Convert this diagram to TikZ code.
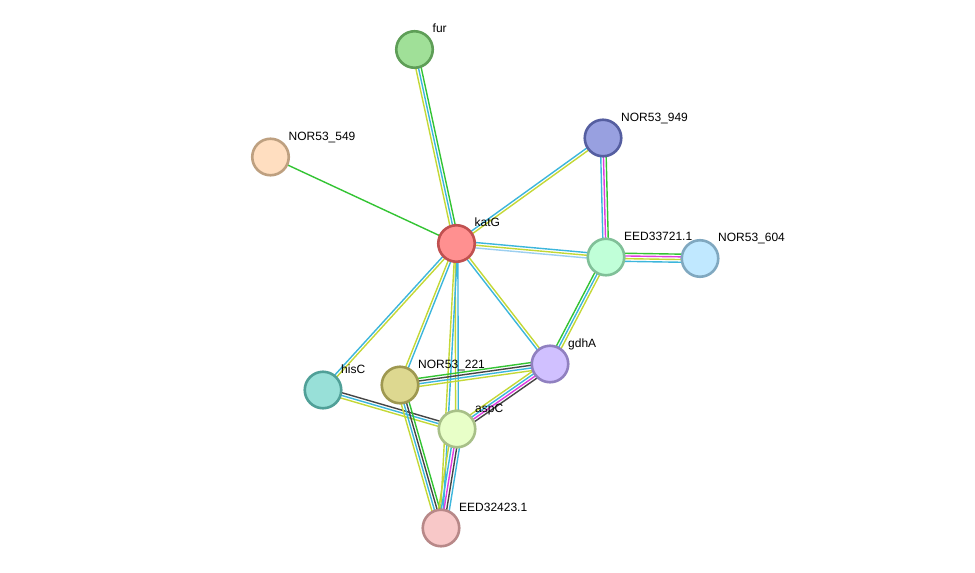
\documentclass[tikz,border=0pt]{standalone}
\usepackage{fontspec}
\setmainfont{Liberation Sans}
\usetikzlibrary{calc,backgrounds}
\definecolor{cG}{HTML}{33C433}
\definecolor{cC}{HTML}{3CB6DC}
\definecolor{cY}{HTML}{C4D836}
\definecolor{cK}{HTML}{454545}
\definecolor{cM}{HTML}{E03CE0}
\definecolor{cL}{HTML}{9CCFF0}
\tikzset{
  prot/.style={circle, minimum size=36.5pt, inner sep=0pt, line width=2.6pt},
  plabel/.style={anchor=base west, font=\fontsize{12}{14}\selectfont, inner sep=0pt},
  eline/.style={line width=1.4pt},
}
% \pedge{a}{b}{n}{colours}
\newcommand{\pedge}[4]{%
  \foreach \c [count=\i] in {#4} {%
    \pgfmathsetmacro{\o}{(\i-1-(#3-1)/2)*2.7}%
    \draw[eline, draw=\c] ($(#1)!\o pt!90:(#2)$) -- ($(#2)!\o pt!-90:(#1)$);
  }%
}
\begin{document}
\begin{tikzpicture}[x=1pt,y=-1pt]
\useasboundingbox (0,0) rectangle (975,573);
\node[prot, fill={rgb,255:red,160;green,224;blue,152}, draw={rgb,255:red,94;green,158;blue,87}] (fur) at (414.5,49.5) {};
\node[prot, fill={rgb,255:red,255;green,222;blue,192}, draw={rgb,255:red,190;green,160;blue,128}] (n549) at (270.5,157) {};
\node[prot, fill={rgb,255:red,152;green,160;blue,224}, draw={rgb,255:red,85;green,94;blue,160}] (n949) at (603,138) {};
\node[prot, fill={rgb,255:red,255;green,144;blue,144}, draw={rgb,255:red,192;green,80;blue,80}] (katG) at (456.5,243.5) {};
\node[prot, fill={rgb,255:red,192;green,255;blue,216}, draw={rgb,255:red,128;green,192;blue,152}] (e721) at (606,257) {};
\node[prot, fill={rgb,255:red,192;green,232;blue,255}, draw={rgb,255:red,128;green,168;blue,192}] (n604) at (700,258.5) {};
\node[prot, fill={rgb,255:red,208;green,192;blue,255}, draw={rgb,255:red,144;green,128;blue,192}] (gdhA) at (550,364) {};
\node[prot, fill={rgb,255:red,152;green,224;blue,216}, draw={rgb,255:red,80;green,160;blue,152}] (hisC) at (323,390) {};
\node[prot, fill={rgb,255:red,221;green,216;blue,144}, draw={rgb,255:red,158;green,152;blue,80}] (n221) at (400,385) {};
\node[prot, fill={rgb,255:red,232;green,255;blue,200}, draw={rgb,255:red,168;green,192;blue,136}] (aspC) at (457,429) {};
\node[prot, fill={rgb,255:red,248;green,200;blue,200}, draw={rgb,255:red,184;green,136;blue,136}] (e423) at (441,528) {};
\begin{scope}[on background layer]
\fill[white] (0,0) rectangle (975,573);
\pedge{fur}{katG}{3}{cY,cC,cG}
\pedge{n549}{katG}{1}{cG}
\pedge{n949}{katG}{2}{cC,cY}
\pedge{katG}{e721}{3}{cL,cY,cC}
\pedge{katG}{gdhA}{2}{cC,cY}
\pedge{katG}{hisC}{2}{cC,cY}
\pedge{katG}{n221}{2}{cY,cC}
\pedge{katG}{aspC}{2}{cY,cC}
\pedge{katG}{e423}{2}{cY,cC}
\pedge{n949}{e721}{3}{cC,cM,cG}
\pedge{e721}{n604}{4}{cC,cY,cM,cG}
\pedge{e721}{gdhA}{3}{cG,cC,cY}
\pedge{n221}{gdhA}{4}{cY,cC,cK,cG}
\pedge{gdhA}{aspC}{4}{cY,cC,cM,cK}
\pedge{hisC}{aspC}{3}{cY,cC,cK}
\pedge{n221}{e423}{4}{cY,cC,cK,cG}
\pedge{aspC}{e423}{5}{cY,cC,cM,cK,cC}
\end{scope}
\foreach \n/\t in {fur/fur, n549/NOR53\_549, n949/NOR53\_949, katG/katG, e721/EED33721.1, n604/NOR53\_604, gdhA/gdhA, hisC/hisC, n221/NOR53\_221, aspC/aspC, e423/EED32423.1}
  \node[plabel] (\n-l) at ($(\n)+(18,-17)$) {\t};
\end{tikzpicture}
\end{document}
